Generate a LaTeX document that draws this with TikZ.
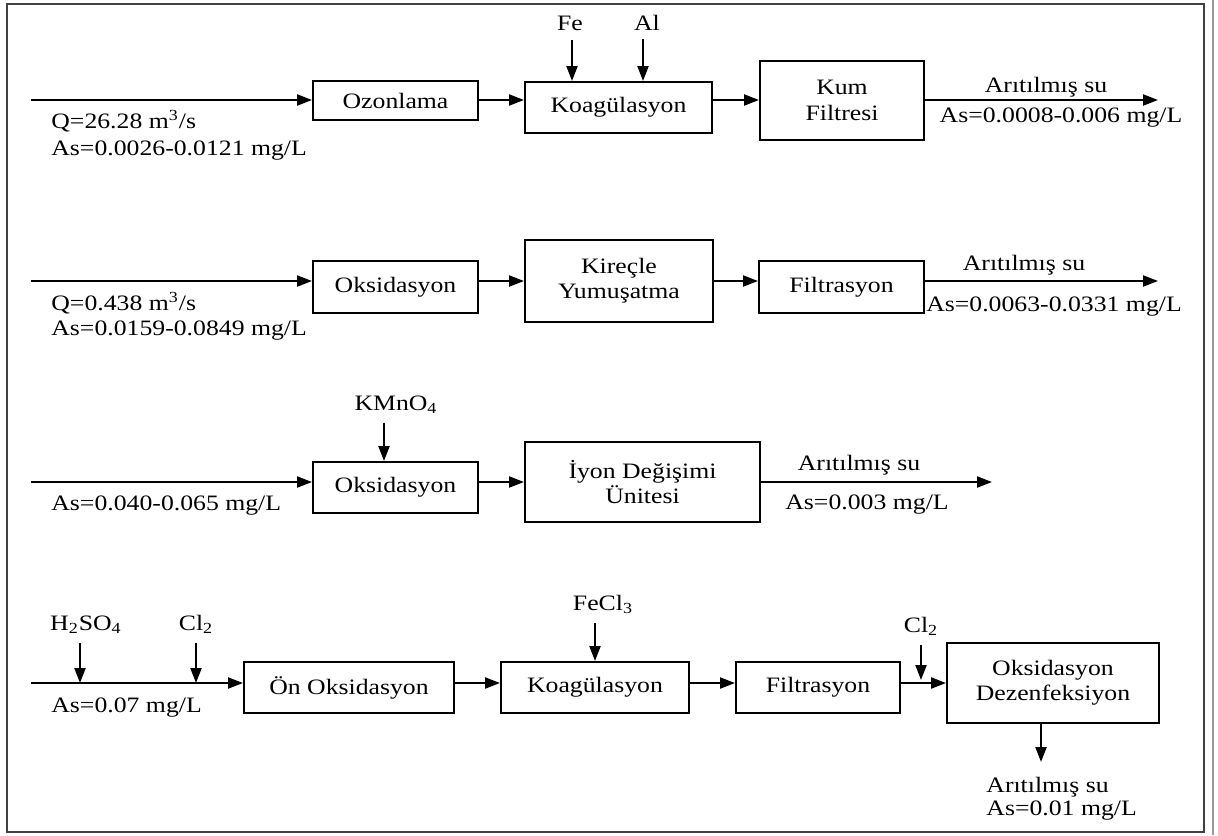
\documentclass[tikz,border=0pt]{standalone}
\usepackage{fontspec}
\setmainfont{Liberation Serif}[FakeStretch=1.17]
\usetikzlibrary{arrows.meta}
\begin{document}
\begin{tikzpicture}[x=0.5pt,y=-0.5pt,
 unit/.style={draw,line width=1pt,align=center,inner sep=0pt,font=\fontsize{11}{12.7}\selectfont},
 lbl/.style={inner sep=0pt,font=\fontsize{11}{12.7}\selectfont},
 flow/.style={->,line width=1.1pt},
 feed/.style={flow,shorten <=4.5pt},
 >={Triangle[length=7.5pt,width=5.5pt]}]
 \useasboundingbox (0,0) rectangle (1218,835);
 \draw[black!75,line width=1pt] (7,4) rectangle (1204,832);
 \draw[black!40,line width=.6pt] (1213,0) -- (1213,835);
 % first line
 \coordinate (in1) at (31,100);
 \coordinate (out1) at (1158,100);
 \node[unit,minimum width=82.5pt,minimum height=19.5pt] (oz1) at (395.5,100.5) {Ozonlama};
 \node[unit,minimum width=93.5pt,minimum height=25.5pt] (ko1) at (618.5,107.5) {Koagülasyon};
 \node[unit,minimum width=82pt,minimum height=39.5pt] (ku1) at (842,100.5) {Kum\\Filtresi};
 \node[lbl,anchor=base] (fe1) at (570,30) {Fe};
 \node[lbl,anchor=base] (al1) at (647,30) {Al};
 \node[lbl,anchor=base west] (q1) at (51,128) {Q=26.28 m\textsuperscript{3}/s};
 \node[lbl,anchor=base west] (as1) at (51,155) {As=0.0026-0.0121 mg/L};
 \node[lbl,anchor=base] (su1) at (1046,92) {Arıtılmış su};
 \node[lbl,anchor=base] (ao1) at (1061,122) {As=0.0008-0.006 mg/L};
 \draw[flow] (in1) -- (in1 -| oz1.west);
 \draw[flow] (in1 -| oz1.east) -- (in1 -| ko1.west);
 \draw[flow] (in1 -| ko1.east) -- (in1 -| ku1.west);
 \draw[flow] (in1 -| ku1.east) -- (out1);
 \draw[feed] ([xshift=1pt]fe1.south) -- ([xshift=1pt]fe1.south |- ko1.north);
 \draw[feed] ([xshift=-2pt]al1.south) -- ([xshift=-2pt]al1.south |- ko1.north);
 % second line
 \coordinate (in2) at (31,281);
 \coordinate (out2) at (1158,281);
 \node[unit,minimum width=82.5pt,minimum height=26pt] (ox2) at (395.5,287) {Oksidasyon};
 \node[unit,minimum width=94pt,minimum height=41pt] (ki2) at (619,281) {Kireçle\\Yumuşatma};
 \node[unit,minimum width=82.5pt,minimum height=26pt] (fi2) at (841.5,287) {Filtrasyon};
 \node[lbl,anchor=base west] (q2) at (51,310) {Q=0.438 m\textsuperscript{3}/s};
 \node[lbl,anchor=base west] (as2) at (51,335) {As=0.0159-0.0849 mg/L};
 \node[lbl,anchor=base] (su2) at (1024,270) {Arıtılmış su};
 \node[lbl,anchor=base] (ao2) at (1054,311) {As=0.0063-0.0331 mg/L};
 \draw[flow] (in2) -- (in2 -| ox2.west);
 \draw[flow] (in2 -| ox2.east) -- (in2 -| ki2.west);
 \draw[flow] (in2 -| ki2.east) -- (in2 -| fi2.west);
 \draw[flow] (in2 -| fi2.east) -- (out2);
 % third line
 \coordinate (in3) at (31,482);
 \coordinate (out3) at (992,482);
 \node[unit,minimum width=82.5pt,minimum height=25.5pt] (ox3) at (395.5,487.5) {Oksidasyon};
 \node[unit,minimum width=117.5pt,minimum height=40pt] (iy3) at (642.5,482) {İyon Değişimi\\Ünitesi};
 \node[lbl,anchor=base] (km3) at (396,410) {KMnO\textsubscript{4}};
 \node[lbl,anchor=base west] (as3) at (51,510) {As=0.040-0.065 mg/L};
 \node[lbl,anchor=base] (su3) at (859,470) {Arıtılmış su};
 \node[lbl,anchor=base] (ao3) at (867,509) {As=0.003 mg/L};
 \draw[flow] (in3) -- (in3 -| ox3.west);
 \draw[flow] (in3 -| ox3.east) -- (in3 -| iy3.west);
 \draw[flow] (in3 -| iy3.east) -- (out3);
 \draw[feed] ([xshift=-6pt]km3.south) -- ([xshift=-6pt]km3.south |- ox3.north);
 % fourth line
 \coordinate (in4) at (31,683);
 \coordinate (out4) at (1041,762);
 \node[unit,minimum width=105pt,minimum height=25.5pt] (on4) at (349,687.5) {Ön Oksidasyon};
 \node[unit,minimum width=94pt,minimum height=25.5pt] (ko4) at (595,687.5) {Koagülasyon};
 \node[unit,minimum width=82pt,minimum height=25.5pt] (fi4) at (818,687.5) {Filtrasyon};
 \node[unit,minimum width=106pt,minimum height=40pt] (od4) at (1053,683) {Oksidasyon\\Dezenfeksiyon};
 \node[lbl,anchor=base] (hs4) at (86,630) {H\textsubscript{2}SO\textsubscript{4}};
 \node[lbl,anchor=base] (cl4) at (196,630) {Cl\textsubscript{2}};
 \node[lbl,anchor=base] (fc4) at (603,610) {FeCl\textsubscript{3}};
 \node[lbl,anchor=base] (cz4) at (921,632) {Cl\textsubscript{2}};
 \node[lbl,anchor=base west] (as4) at (51,712) {As=0.07 mg/L};
 \node[lbl,anchor=base west] (su4) at (986,792) {Arıtılmış su};
 \node[lbl,anchor=base west] (ao4) at (986,815) {As=0.01 mg/L};
 \draw[flow] (in4) -- (in4 -| on4.west);
 \draw[flow] (in4 -| on4.east) -- (in4 -| ko4.west);
 \draw[flow] (in4 -| ko4.east) -- (in4 -| fi4.west);
 \draw[flow] (in4 -| fi4.east) -- (in4 -| od4.west);
 \draw[flow] (od4.south -| out4) -- (out4);
 \draw[feed] ([xshift=-3pt]hs4.south) -- ([xshift=-3pt]hs4.south |- in4);
 \draw[feed] (cl4.south) -- (cl4.south |- in4);
 \draw[feed] ([xshift=-4pt]fc4.south) -- ([xshift=-4pt]fc4.south |- ko4.north);
 \draw[feed] (cz4.south) -- ([yshift=1.5pt]cz4.south |- in4);
\end{tikzpicture}
\end{document}
